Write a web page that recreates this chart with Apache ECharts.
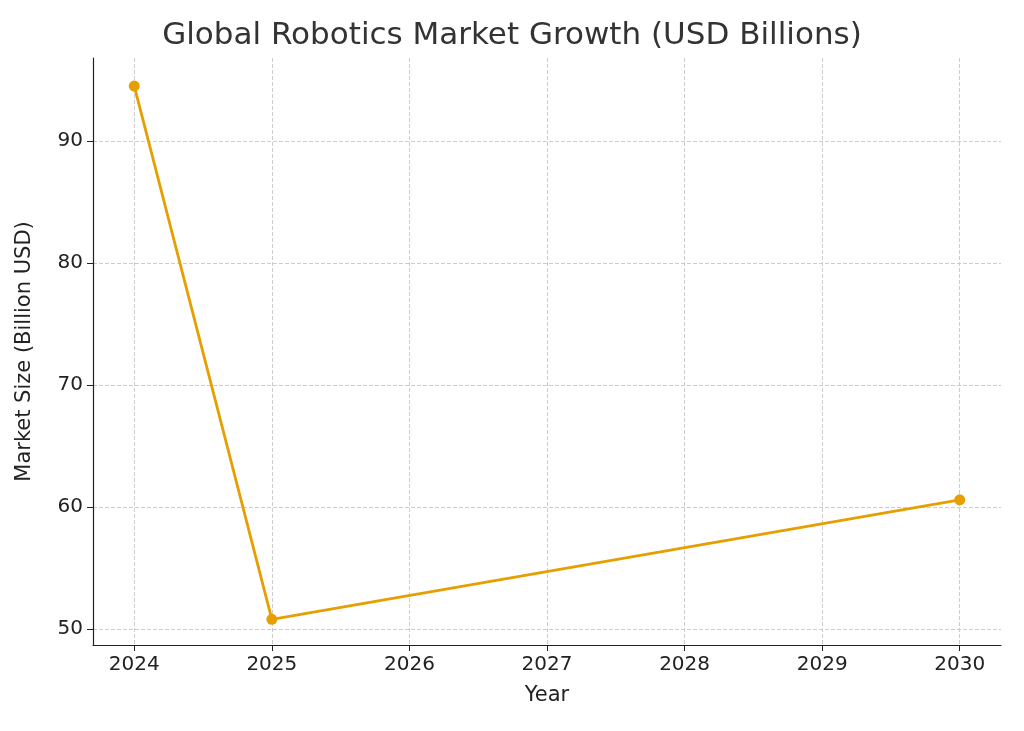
<!DOCTYPE html>
<html><head><meta charset="utf-8">
<script src="https://cdn.jsdelivr.net/npm/echarts@6/dist/echarts.min.js"></script>
<style>html,body{margin:0;padding:0;background:#fff}#c{width:1024px;height:731px}</style>
</head><body><div id="c"></div>
<script>
const years = [2024, 2025, 2030];
const marketSize = [94.5, 50.8, 60.6];
const chart = echarts.init(document.getElementById('c'));
chart.setOption({
  animation:false,
  backgroundColor:'#fff',
  title:{text:'Global Robotics Market Growth (USD Billions)',left:'center',top:15,
    textStyle:{fontFamily:'DejaVu Sans',fontSize:31,fontWeight:'normal',color:'#333'}},
  grid:{left:93,right:23,top:58,bottom:86},
  xAxis:{type:'value',min:2023.7,max:2030.3,splitNumber:7,name:'Year',nameLocation:'middle',nameGap:40,
    nameTextStyle:{fontFamily:'DejaVu Sans',fontSize:21,color:'#222'},
    axisLine:{show:true,onZero:false,lineStyle:{color:'#222',width:1.2}},
    axisTick:{show:true,length:6,lineStyle:{color:'#222'}},
    axisLabel:{showMinLabel:false,showMaxLabel:false,fontFamily:'DejaVu Sans',fontSize:20,color:'#222',margin:10,formatter:v=>String(v)},
    splitLine:{show:true,showMinLine:false,showMaxLine:false,lineStyle:{type:'dashed',color:'#ccc'}}},
  yAxis:{type:'value',min:48.7,max:96.8,splitNumber:5,name:'Market Size (Billion USD)',nameLocation:'middle',nameGap:58,
    nameTextStyle:{fontFamily:'DejaVu Sans',fontSize:21,color:'#222'},
    axisLine:{show:true,lineStyle:{color:'#222',width:1.2}},
    axisTick:{show:true,length:6,lineStyle:{color:'#222'}},
    axisLabel:{showMinLabel:false,showMaxLabel:false,fontFamily:'DejaVu Sans',fontSize:20,color:'#222',margin:10},
    splitLine:{show:true,showMinLine:false,showMaxLine:false,lineStyle:{type:'dashed',color:'#ccc'}}},
  series:[{type:'line',data:years.map((y,i)=>[y,marketSize[i]]),
    symbol:'circle',symbolSize:11,
    lineStyle:{color:'#E69F00',width:2.8},itemStyle:{color:'#E69F00'}}]
});
</script></body></html>
